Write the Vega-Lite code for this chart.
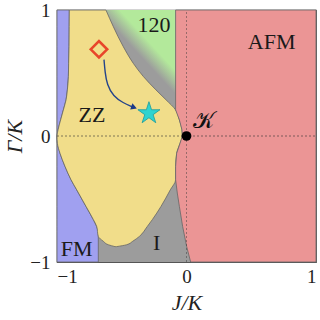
{
  "$schema": "https://vega.github.io/schema/vega-lite/v6.json",
  "width": 259,
  "height": 252,
  "autosize": {"type": "none"},
  "padding": {"left": 57, "top": 10, "right": 4, "bottom": 58},
  "background": "white",
  "config": {
    "view": {"stroke": "#555555", "strokeWidth": 1.2},
    "axis": {
      "domain": false, "ticks": false, "grid": false,
      "labelFont": "Liberation Serif", "labelFontSize": 19, "labelColor": "#222222",
      "titleFont": "Liberation Serif", "titleFontSize": 22, "titleFontStyle": "italic",
      "titleFontWeight": "normal", "titleColor": "#222222"
    }
  },
  "datasets": {
    "fm": [
      {"y": 1.0, "xa": -1, "xb": -0.905},
      {"y": 0.868, "xa": -1, "xb": -0.906},
      {"y": 0.709, "xa": -1, "xb": -0.907},
      {"y": 0.577, "xa": -1, "xb": -0.910},
      {"y": 0.472, "xa": -1, "xb": -0.912},
      {"y": 0.366, "xa": -1, "xb": -0.920},
      {"y": 0.287, "xa": -1, "xb": -0.930},
      {"y": 0.207, "xa": -1, "xb": -0.951},
      {"y": 0.128, "xa": -1, "xb": -0.972},
      {"y": 0.049, "xa": -1, "xb": -0.992},
      {"y": 0.0, "xa": -1, "xb": -1.0},
      {"y": -0.058, "xa": -1, "xb": -0.997},
      {"y": -0.137, "xa": -1, "xb": -0.977},
      {"y": -0.242, "xa": -1, "xb": -0.938},
      {"y": -0.347, "xa": -1, "xb": -0.892},
      {"y": -0.427, "xa": -1, "xb": -0.848},
      {"y": -0.559, "xa": -1, "xb": -0.776},
      {"y": -0.664, "xa": -1, "xb": -0.719},
      {"y": -0.717, "xa": -1, "xb": -0.694},
      {"y": -0.76, "xa": -1, "xb": -0.681},
      {"y": -1.0, "xa": -1, "xb": -0.681}
    ],
    "zz": [
      {"y": 1.0, "xa": -0.905, "xb": -0.622},
      {"y": 0.868, "xa": -0.906, "xb": -0.565},
      {"y": 0.709, "xa": -0.907, "xb": -0.488},
      {"y": 0.577, "xa": -0.910, "xb": -0.411},
      {"y": 0.472, "xa": -0.912, "xb": -0.333},
      {"y": 0.366, "xa": -0.920, "xb": -0.236},
      {"y": 0.287, "xa": -0.930, "xb": -0.158},
      {"y": 0.207, "xa": -0.951, "xb": -0.084},
      {"y": 0.128, "xa": -0.972, "xb": -0.055},
      {"y": 0.049, "xa": -0.992, "xb": -0.035},
      {"y": 0.0, "xa": -1.0, "xb": -0.032},
      {"y": -0.058, "xa": -0.997, "xb": -0.050},
      {"y": -0.137, "xa": -0.977, "xb": -0.076},
      {"y": -0.242, "xa": -0.938, "xb": -0.084},
      {"y": -0.347, "xa": -0.892, "xb": -0.084},
      {"y": -0.427, "xa": -0.848, "xb": -0.125},
      {"y": -0.559, "xa": -0.776, "xb": -0.197},
      {"y": -0.664, "xa": -0.719, "xb": -0.264},
      {"y": -0.717, "xa": -0.694, "xb": -0.302},
      {"y": -0.797, "xa": -0.681, "xb": -0.364},
      {"y": -0.836, "xa": -0.642, "xb": -0.416},
      {"y": -0.863, "xa": -0.604, "xb": -0.462},
      {"y": -0.878, "xa": -0.552, "xb": -0.540}
    ],
    "afm": [
      {"y": 1.0, "xa": -0.084, "xb": 1},
      {"y": 0.207, "xa": -0.084, "xb": 1},
      {"y": 0.128, "xa": -0.055, "xb": 1},
      {"y": 0.049, "xa": -0.035, "xb": 1},
      {"y": 0.0, "xa": -0.032, "xb": 1},
      {"y": -0.058, "xa": -0.050, "xb": 1},
      {"y": -0.137, "xa": -0.076, "xb": 1},
      {"y": -0.242, "xa": -0.084, "xb": 1},
      {"y": -0.347, "xa": -0.084, "xb": 1},
      {"y": -0.453, "xa": -0.071, "xb": 1},
      {"y": -0.559, "xa": -0.055, "xb": 1},
      {"y": -0.717, "xa": -0.030, "xb": 1},
      {"y": -0.876, "xa": 0.001, "xb": 1},
      {"y": -1.0, "xa": 0.032, "xb": 1}
    ],
    "arrow": [
      {"i": 0, "x": -0.637, "y": 0.606},
      {"i": 1, "x": -0.629, "y": 0.508},
      {"i": 2, "x": -0.614, "y": 0.407},
      {"i": 3, "x": -0.565, "y": 0.315},
      {"i": 4, "x": -0.488, "y": 0.262},
      {"i": 5, "x": -0.420, "y": 0.232}
    ],
    "labels": [
      {"label": "120", "x": -0.251, "y": 0.877},
      {"label": "AFM", "x": 0.658, "y": 0.749},
      {"label": "ZZ", "x": -0.73, "y": 0.168},
      {"label": "FM", "x": -0.848, "y": -0.9},
      {"label": "I", "x": -0.23, "y": -0.85}
    ]
  },
  "layer": [
    {
      "data": {"values": [{"x": -1, "x2": 1, "y": -1, "y2": 1}]},
      "mark": {"type": "rect", "fill": "#9c9c9c"},
      "encoding": {
        "x": {"field": "x", "type": "quantitative", "scale": {"domain": [-1, 1], "nice": false, "zero": false},
              "axis": {"values": [-1, 0, 1], "title": "J/K", "labelPadding": 5, "titlePadding": 6, "labelExpr": "datum.value < 0 ? '−1' : (datum.value > 0 ? '1' : '0')"}},
        "x2": {"field": "x2"},
        "y": {"field": "y", "type": "quantitative", "scale": {"domain": [-1, 1], "nice": false, "zero": false},
              "axis": {"values": [-1, 0, 1], "title": "Γ/K", "labelPadding": 7, "titlePadding": 3, "labelExpr": "datum.value < 0 ? '−1' : (datum.value > 0 ? '1' : '0')"}},
        "y2": {"field": "y2"}
      }
    },
    {
      "data": {"values": [{"x": -1, "x2": -0.084, "y": 0.2, "y2": 1}]},
      "mark": {"type": "rect", "fill": {"gradient": "linear", "x1": 0.632, "y1": 0.446, "x2": 0.784, "y2": 0.327,
        "stops": [{"offset": 0, "color": "#9c9c9c"}, {"offset": 0.25, "color": "#9c9c9c"}, {"offset": 1, "color": "#b3e99b"}]}},
      "encoding": {
        "x": {"field": "x", "type": "quantitative"},
        "x2": {"field": "x2"},
        "y": {"field": "y", "type": "quantitative"},
        "y2": {"field": "y2"}
      }
    },
    {
      "data": {"name": "fm"},
      "mark": {"type": "area", "orient": "horizontal", "fill": "#a0a0f0", "stroke": "#666666", "strokeWidth": 0.8},
      "encoding": {
        "y": {"field": "y", "type": "quantitative"},
        "x": {"field": "xa", "type": "quantitative", "stack": null},
        "x2": {"field": "xb"}
      }
    },
    {
      "data": {"name": "zz"},
      "mark": {"type": "area", "orient": "horizontal", "fill": "#f1dd8a", "stroke": "#666666", "strokeWidth": 0.8, "interpolate": "monotone"},
      "encoding": {
        "y": {"field": "y", "type": "quantitative"},
        "x": {"field": "xa", "type": "quantitative", "stack": null},
        "x2": {"field": "xb"}
      }
    },
    {
      "data": {"name": "afm"},
      "mark": {"type": "area", "orient": "horizontal", "fill": "#eb9595", "stroke": "#666666", "strokeWidth": 0.8},
      "encoding": {
        "y": {"field": "y", "type": "quantitative"},
        "x": {"field": "xa", "type": "quantitative", "stack": null},
        "x2": {"field": "xb"}
      }
    },
    {
      "data": {"values": [{"x": -1, "x2": 1, "y": 0}]},
      "mark": {"type": "rule", "stroke": "#333333", "strokeWidth": 1, "strokeDash": [2, 2], "opacity": 0.6},
      "encoding": {
        "x": {"field": "x", "type": "quantitative"},
        "x2": {"field": "x2"},
        "y": {"field": "y", "type": "quantitative"}
      }
    },
    {
      "data": {"values": [{"x": 0, "y": -1, "y2": 1}]},
      "mark": {"type": "rule", "stroke": "#333333", "strokeWidth": 1, "strokeDash": [2, 2], "opacity": 0.45},
      "encoding": {
        "x": {"field": "x", "type": "quantitative"},
        "y": {"field": "y", "type": "quantitative"},
        "y2": {"field": "y2"}
      }
    },
    {
      "data": {"name": "arrow"},
      "mark": {"type": "line", "stroke": "#24448a", "strokeWidth": 1.4, "interpolate": "basis"},
      "encoding": {
        "x": {"field": "x", "type": "quantitative"},
        "y": {"field": "y", "type": "quantitative"},
        "order": {"field": "i"}
      }
    },
    {
      "data": {"values": [{"x": -0.405, "y": 0.227}]},
      "mark": {"type": "point", "shape": "triangle-right", "filled": true, "fill": "#1a3a8a", "size": 45, "angle": 20, "opacity": 1},
      "encoding": {
        "x": {"field": "x", "type": "quantitative"},
        "y": {"field": "y", "type": "quantitative"}
      }
    },
    {
      "data": {"values": [{"x": -0.676, "y": 0.688}]},
      "mark": {"type": "point", "shape": "diamond", "filled": false, "stroke": "#e8452a", "strokeWidth": 2.6, "size": 270, "opacity": 1},
      "encoding": {
        "x": {"field": "x", "type": "quantitative"},
        "y": {"field": "y", "type": "quantitative"}
      }
    },
    {
      "data": {"values": [{"x": -0.29, "y": 0.18}]},
      "mark": {"type": "point", "shape": "M0,-1L0.223,-0.307L0.951,-0.309L0.361,0.117L0.588,0.809L0,0.38L-0.588,0.809L-0.361,0.117L-0.951,-0.309L-0.223,-0.307Z", "filled": true, "fill": "#2fd3cf", "stroke": "#1e9a9a", "strokeWidth": 0.8, "size": 540, "opacity": 1},
      "encoding": {
        "x": {"field": "x", "type": "quantitative"},
        "y": {"field": "y", "type": "quantitative"}
      }
    },
    {
      "data": {"values": [{"x": 0, "y": 0}]},
      "mark": {"type": "point", "shape": "circle", "filled": true, "fill": "#000000", "size": 95, "opacity": 1},
      "encoding": {
        "x": {"field": "x", "type": "quantitative"},
        "y": {"field": "y", "type": "quantitative"}
      }
    },
    {
      "data": {"values": [{"label": "𝒦", "x": 0.13, "y": 0.12}]},
      "mark": {"type": "text", "font": "DejaVu Serif", "fontSize": 23, "fill": "#111111", "baseline": "middle"},
      "encoding": {
        "x": {"field": "x", "type": "quantitative"},
        "y": {"field": "y", "type": "quantitative"},
        "text": {"field": "label"}
      }
    },
    {
      "data": {"name": "labels"},
      "mark": {"type": "text", "font": "Liberation Serif", "fontSize": 22, "fill": "#1a1a1a", "baseline": "middle"},
      "encoding": {
        "x": {"field": "x", "type": "quantitative"},
        "y": {"field": "y", "type": "quantitative"},
        "text": {"field": "label"}
      }
    }
  ]
}
